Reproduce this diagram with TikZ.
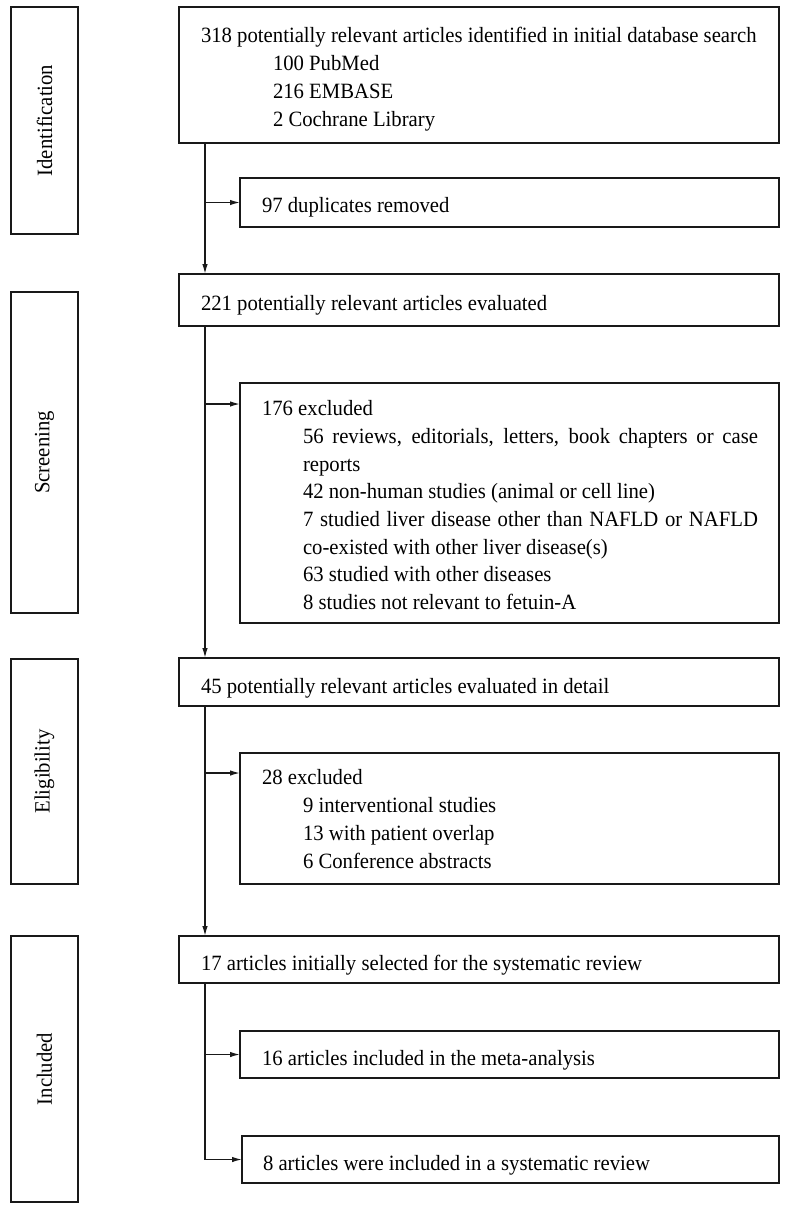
\documentclass[tikz,border=0pt]{standalone}
\usepackage{fontspec}
\setmainfont[FakeStretch=0.95]{Liberation Serif}
\usetikzlibrary{arrows.meta}
\begin{document}
\begin{tikzpicture}[x=1pt,y=-1pt,
  every node/.style={font=\fontsize{21.8pt}{27.7pt}\selectfont, text=black},
  box/.style={draw=black!90, line width=1.9pt, inner sep=0pt, outer sep=0pt, anchor=north west},
  txt/.style={anchor=base west, inner sep=0pt, outer sep=0pt},
  arr/.style={line width=1.4pt, draw=black!90, -{Latex[length=10pt,width=5.5pt]}}]
\useasboundingbox[fill=white] (0,0) rectangle (787,1213);

% stage label boxes
\node[box, minimum width=67pt, minimum height=227pt] (lab1) at (11,7) {};
\node[box, minimum width=67pt, minimum height=321pt] (lab2) at (11,292) {};
\node[box, minimum width=67pt, minimum height=225pt] (lab3) at (11,659) {};
\node[box, minimum width=67pt, minimum height=266pt] (lab4) at (11,936) {};
\node[rotate=90, inner sep=0pt] (lab1t) at (lab1.center) {Identification};
\node[rotate=90, inner sep=0pt] (lab2t) at (lab2.center) {Screening};
\node[rotate=90, inner sep=0pt] (lab3t) at (lab3.center) {Eligibility};
\node[rotate=90, inner sep=0pt] (lab4t) at (lab4.center) {Included};

% flow boxes
\node[box, minimum width=600pt, minimum height=136pt] (b1) at (179,7) {};
\node[box, minimum width=539pt, minimum height=49pt]  (b2) at (240,178) {};
\node[box, minimum width=600pt, minimum height=52pt]  (b3) at (179,274) {};
\node[box, minimum width=539pt, minimum height=240pt] (b4) at (240,383) {};
\node[box, minimum width=600pt, minimum height=48pt]  (b5) at (179,658) {};
\node[box, minimum width=539pt, minimum height=131pt] (b6) at (240,753) {};
\node[box, minimum width=600pt, minimum height=47pt]  (b7) at (179,936) {};
\node[box, minimum width=539pt, minimum height=47pt]  (b8) at (240,1031) {};
\node[box, minimum width=537pt, minimum height=47pt]  (b9) at (242,1136) {};

% texts
\node[txt] (b1t) at (201,42) {\parbox[t]{570pt}{\fontsize{21.8pt}{28pt}\selectfont
  318 potentially relevant articles identified in initial database search\\
  \hspace*{72pt}100 PubMed\\
  \hspace*{72pt}216 EMBASE\\
  \hspace*{72pt}2 Cochrane Library}};
\node[txt] (b2t) at (262,212) {97 duplicates removed};
\node[txt] (b3t) at (201,310) {221 potentially relevant articles evaluated};
\node[txt] (b4t) at (262,415.7) {\parbox[t]{496pt}{\fontsize{21.8pt}{27.7pt}\selectfont
  \hyphenpenalty=10000 \exhyphenpenalty=10000 \tolerance=9999
  176 excluded\par
  \leftskip=41pt
  56 reviews, editorials, letters, book chapters or case reports\par
  42 non-human studies (animal or cell line)\par
  7 studied liver disease other than NAFLD or NAFLD co-existed with other liver disease(s)\par
  63 studied with other diseases\par
  8 studies not relevant to fetuin-A\par}};
\node[txt] (b5t) at (201,693) {45 potentially relevant articles evaluated in detail};
\node[txt] (b6t) at (262,784) {\parbox[t]{496pt}{\fontsize{21.8pt}{28pt}\selectfont
  28 excluded\par
  \leftskip=41pt
  9 interventional studies\par
  13 with patient overlap\par
  6 Conference abstracts\par}};
\node[txt] (b7t) at (201,970) {17 articles initially selected for the systematic review};
\node[txt] (b8t) at (262,1065) {16 articles included in the meta-analysis};
\node[txt] (b9t) at (263,1170) {8 articles were included in a systematic review};

% connectors
\coordinate (m1) at ([xshift=26pt]b1.south west);
\coordinate (m2) at ([xshift=26pt]b3.south west);
\coordinate (m3) at ([xshift=26pt]b5.south west);
\coordinate (m4) at ([xshift=26pt]b7.south west);
\draw[arr] (m1) -- (m1 |- b3.north);
\draw[arr] (m1 |- b2.west) -- (b2.west);
\draw[arr] (m2) -- (m2 |- b5.north);
\draw[arr] ([yshift=-21pt]b4.north west -| m2) -- ([yshift=-21pt]b4.north west);
\draw[arr] (m3) -- (m3 |- b7.north);
\draw[arr] ([yshift=-20pt]b6.north west -| m3) -- ([yshift=-20pt]b6.north west);
\draw[arr] (m4 |- b8.west) -- (b8.west);
\draw[arr] (m4) |- (b9.west);
\end{tikzpicture}
\end{document}
